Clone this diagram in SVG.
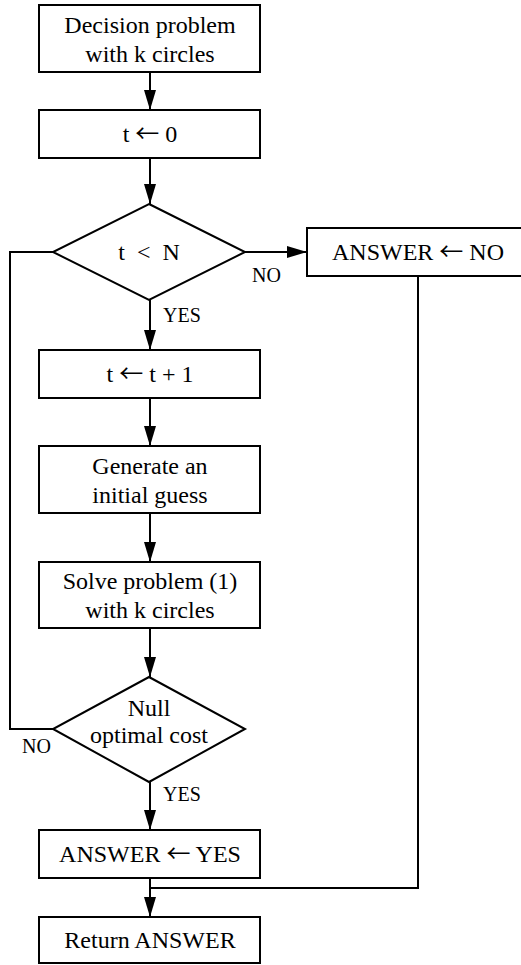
<svg xmlns="http://www.w3.org/2000/svg" width="521" height="965" viewBox="0 0 521 965" font-family="'Liberation Serif', 'Times New Roman', Times, serif">
<defs>
<style>
.n{fill:#fff;stroke:#000;stroke-width:2}
.t{font-family:'Liberation Serif', 'Times New Roman', Times, serif;font-size:24px;text-anchor:middle;fill:#000}
.l{font-family:'Liberation Serif', 'Times New Roman', Times, serif;font-size:20px;fill:#000}
.a{font-family:'Noto Sans CJK SC', 'DejaVu Sans', sans-serif}
.c{fill:none;stroke:#000;stroke-width:2}
</style>
<marker id="ah" viewBox="0 0 20 12" refX="20" refY="6" markerWidth="20" markerHeight="12" markerUnits="userSpaceOnUse" orient="auto">
<path d="M0,0 L20,6 L0,12 Z" fill="#000"/>
</marker>
</defs>
<rect width="521" height="965" fill="#fff"/>
<g id="connectors">
<path class="c" d="M150,72 V110" marker-end="url(#ah)"/>
<path class="c" d="M150,158 V204" marker-end="url(#ah)"/>
<path class="c" d="M245,252 H307" marker-end="url(#ah)"/>
<path class="c" d="M150,300 V350" marker-end="url(#ah)"/>
<path class="c" d="M150,398 V446" marker-end="url(#ah)"/>
<path class="c" d="M150,513 V562" marker-end="url(#ah)"/>
<path class="c" d="M150,628 V677" marker-end="url(#ah)"/>
<path class="c" d="M150,782 V830" marker-end="url(#ah)"/>
<path class="c" d="M150,878 V917" marker-end="url(#ah)"/>
<path class="c" d="M53,729 H10 V252 H53"/>
<path class="c" d="M418,276 V888 H150"/>
<text class="l" x="252" y="282">NO</text>
<text class="l" x="163" y="322">YES</text>
<text class="l" x="22" y="753">NO</text>
<text class="l" x="163" y="801">YES</text>
</g>
<g id="start">
<rect class="n" x="39" y="5" width="221" height="67"/>
<text class="t" x="150" y="33">Decision problem</text>
<text class="t" x="150" y="62">with k circles</text>
</g>
<g id="init">
<rect class="n" x="39" y="110" width="221" height="48"/>
<text class="t" x="150" y="142">t <tspan class="a">←</tspan> 0</text>
</g>
<g id="cond1">
<polygon class="n" points="149,204 245,252 149,300 53,252"/>
<text class="t" x="149" y="260">t &#160;&lt;&#160; N</text>
</g>
<g id="answerNo">
<rect class="n" x="307" y="228" width="225" height="48"/>
<text class="t" x="418" y="260">ANSWER <tspan class="a">←</tspan> NO</text>
</g>
<g id="incr">
<rect class="n" x="39" y="350" width="221" height="48"/>
<text class="t" x="150" y="382">t <tspan class="a">←</tspan> t + 1</text>
</g>
<g id="guess">
<rect class="n" x="39" y="446" width="221" height="67"/>
<text class="t" x="150" y="474">Generate an</text>
<text class="t" x="150" y="503">initial guess</text>
</g>
<g id="solve">
<rect class="n" x="39" y="562" width="221" height="66"/>
<text class="t" x="150" y="589">Solve problem (1)</text>
<text class="t" x="150" y="618">with k circles</text>
</g>
<g id="cond2">
<polygon class="n" points="149,677 245,729 149,782 53,729"/>
<text class="t" x="149" y="716">Null</text>
<text class="t" x="149" y="743">optimal cost</text>
</g>
<g id="answerYes">
<rect class="n" x="39" y="830" width="221" height="48"/>
<text class="t" x="150" y="862">ANSWER <tspan class="a">←</tspan> YES</text>
</g>
<g id="ret">
<rect class="n" x="39" y="917" width="221" height="46"/>
<text class="t" x="150" y="948">Return ANSWER</text>
</g>
</svg>
